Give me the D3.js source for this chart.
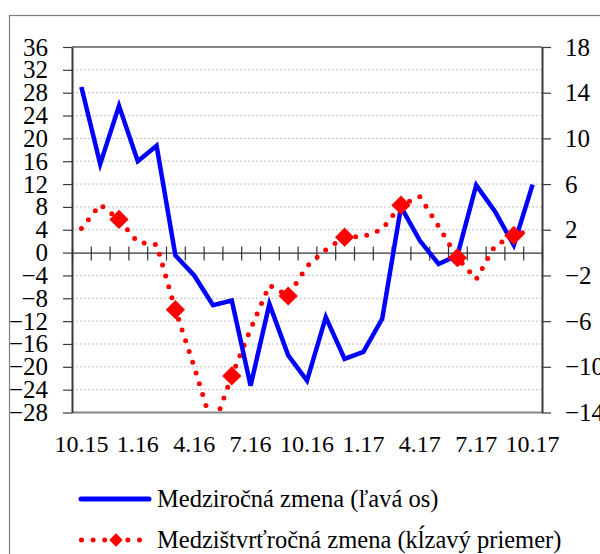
<!DOCTYPE html>
<html>
<head>
  <meta charset="utf-8">
  <script src="https://d3js.org/d3.v7.min.js"></script>
  <style>
  body {
    margin: 0;
    background: #ffffff;
  }
  * {
    font-family: "Liberation Serif", "Times New Roman", serif;
  }
  </style>
</head>

<body>
  <div id="chart"></div>

<script>
const months = ["10.15", "11.15", "12.15", "1.16", "2.16", "3.16", "4.16", "5.16", "6.16", "7.16", "8.16", "9.16",
                "10.16", "11.16", "12.16", "1.17", "2.17", "3.17", "4.17", "5.17", "6.17", "7.17", "8.17", "9.17", "10.17"];
// left axis series
const yoy = [29.0, 15.5, 25.7, 16.0, 18.7, -0.5, -4.0, -9.2, -8.4, -23.3, -9.0, -18.0,
             -22.4, -11.3, -18.6, -17.4, -11.6, 8.0, 2.1, -2.0, -0.5, 11.8, 7.2, 1.3, 11.9];
// right axis series
const qoq = [2.1, 4.2, 2.9, 0.9, 0.7, -5.0, -10.0, -15.4, -10.8, -6.7, -2.85, -3.8,
             -1.2, 0.25, 1.35, 1.4, 2.05, 4.15, 4.9, 2.3, -0.45, -2.35, 0.6, 1.5, 2.0];
const leftTicks = [36, 32, 28, 24, 20, 16, 12, 8, 4, 0, -4, -8, -12, -16, -20, -24, -28];
const rightTicks = [18, 14, 10, 6, 2, -2, -6, -10, -14];
const legendNames = ["Medziročná zmena (ľavá os)", "Medzištvrťročná zmena (kĺzavý priemer)"];

const margin = { top: 47, right: 58, bottom: 141, left: 72 };
const width = 600 - margin.left - margin.right;
const height = 554 - margin.top - margin.bottom - 0.5;

const root = d3.select("#chart")
               .append("svg")
               .attr("width", 600)
               .attr("height", 554);

// outer frame of the chart
root.append("rect")
    .attr("x", 9.5).attr("y", 15.5)
    .attr("width", 620).attr("height", 600)
    .attr("fill", "none")
    .attr("stroke", "#7f7f7f")
    .attr("stroke-width", 1.2);

const svg = root.append("g")
                .attr("transform", `translate(${margin.left},${margin.top})`);

const x = d3.scaleBand().domain(months).range([0, width]).padding(0);
const xi = d3.scaleLinear().domain([0, months.length]).range([0, width]);
const yL = d3.scaleLinear().domain([-28, 36]).range([height, 0]);
const yR = d3.scaleLinear().domain([-14, 18]).range([height, 0]);
const cx = function(d, i) { return x(months[i]) + x.bandwidth() / 2; };

svg.append("clipPath").attr("id", "plot")
   .append("rect").attr("width", width).attr("height", height);

// gridlines
svg.append("g")
   .selectAll("line")
   .data(leftTicks.filter(function(t) { return t != 0 && t != 36 && t != -28; }))
   .join("line")
   .attr("x1", 0).attr("x2", width)
   .attr("y1", function(d) { return yL(d); })
   .attr("y2", function(d) { return yL(d); })
   .attr("stroke", "#c0c0c0")
   .attr("stroke-width", 1)
   .attr("stroke-dasharray", "2 2");

// top and bottom borders of the plot
svg.append("line").attr("x1", 0).attr("x2", width).attr("y1", 0).attr("y2", 0)
   .attr("stroke", "#858585").attr("stroke-width", 2.2);
svg.append("line").attr("x1", 0).attr("x2", width).attr("y1", height).attr("y2", height)
   .attr("stroke", "#858585").attr("stroke-width", 2.2);

// left axis
const axL = svg.append("g")
   .style("font-size", "25px")
   .call(d3.axisLeft(yL).tickValues(leftTicks).tickSize(9).tickPadding(15).tickSizeOuter(0));
axL.select(".domain").attr("stroke", "#3a3a3a").attr("stroke-width", 2);
axL.selectAll(".tick line").attr("stroke", "#3a3a3a").attr("stroke-width", 1.2);
axL.selectAll(".tick text").attr("fill", "#000");

// right axis
const axR = svg.append("g")
   .attr("transform", `translate(${width},0)`)
   .style("font-size", "25px")
   .call(d3.axisRight(yR).tickValues(rightTicks).tickSize(9).tickPadding(14).tickSizeOuter(0));
axR.select(".domain").attr("stroke", "#3a3a3a").attr("stroke-width", 2);
axR.selectAll(".tick line").attr("stroke", "#3a3a3a").attr("stroke-width", 1.2);
axR.selectAll(".tick text").attr("fill", "#000");

// zero line with month ticks
const zero = svg.append("g")
   .attr("transform", `translate(0,${yL(0)})`)
   .call(d3.axisBottom(xi).tickValues(d3.range(months.length + 1)).tickSize(8).tickSizeOuter(0).tickFormat(""));
zero.select(".domain").attr("stroke", "#333").attr("stroke-width", 1.3);
zero.selectAll(".tick line").attr("y1", -6).attr("stroke", "#333").attr("stroke-width", 1.2);

// month labels
const axB = svg.append("g")
   .attr("transform", `translate(0,${height})`)
   .style("font-size", "24px")
   .call(d3.axisBottom(x).tickSize(0).tickPadding(22)
           .tickFormat(function(d, i) { return i % 3 == 0 ? d : ""; }));
axB.select(".domain").remove();
axB.selectAll(".tick text").attr("fill", "#000");

// red dotted line with diamonds
svg.append("path")
   .datum(qoq)
   .attr("clip-path", "url(#plot)")
   .attr("fill", "none")
   .attr("stroke", "#ff0000")
   .attr("stroke-width", 5)
   .attr("stroke-linecap", "round")
   .attr("stroke-dasharray", "0 11.3")
   .attr("d", d3.line().x(cx).y(function(d) { return yR(d); }));

// blue line
svg.append("path")
   .datum(yoy)
   .attr("fill", "none")
   .attr("stroke", "#0000ff")
   .attr("stroke-width", 4.5)
   .attr("stroke-linejoin", "miter")
   .attr("d", d3.line().x(cx).y(function(d) { return yL(d); }));

svg.append("g")
   .selectAll("path")
   .data(qoq.map(function(d, i) { return [cx(d, i), yR(d), i]; }).filter(function(p) { return p[2] % 3 == 2; }))
   .join("path")
   .attr("transform", function(p) { return `translate(${p[0]},${p[1]}) rotate(45)`; })
   .attr("d", d3.symbol().type(d3.symbolSquare).size(185))
   .attr("fill", "#ff0000");

// legend
const legend = root.append("g").style("font-size", "24.5px");
legend.append("line")
      .attr("x1", 81).attr("x2", 149).attr("y1", 499).attr("y2", 499)
      .attr("stroke", "#0000ff").attr("stroke-width", 5).attr("stroke-linecap", "round");
legend.append("text").attr("x", 157).attr("y", 507).text(legendNames[0]);
legend.append("line")
      .attr("x1", 81.5).attr("x2", 141).attr("y1", 540).attr("y2", 540)
      .attr("stroke", "#ff0000").attr("stroke-width", 5)
      .attr("stroke-linecap", "round").attr("stroke-dasharray", "0 11.6");
legend.append("path")
      .attr("transform", "translate(116,540) rotate(45)")
      .attr("d", d3.symbol().type(d3.symbolSquare).size(90))
      .attr("fill", "#ff0000");
legend.append("text").attr("x", 157).attr("y", 548).text(legendNames[1]);
</script>
</body>
</html>
